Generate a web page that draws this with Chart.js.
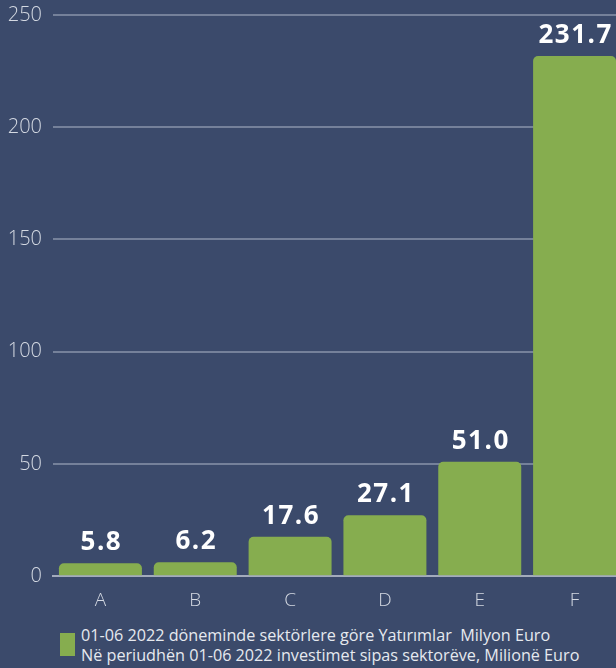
<!DOCTYPE html>
<html lang="tr">
<head>
  <meta charset="UTF-8" />
  <title>Sektörlere göre Yatırımlar</title>
  <script src="https://cdn.jsdelivr.net/npm/chart.js"></script>
  <style>
    html, body {
      margin: 0;
      padding: 0;
      background-color: #3b4a6b;
      overflow: hidden;
    }
    .wrap {
      width: 616px;
      height: 668px;
      position: relative;
      overflow: hidden;
      font-family: "Open Sans", sans-serif;
    }
    .chart-box {
      width: 622px;
      height: 617px;
    }
    .legend {
      position: absolute;
      left: 60px;
      top: 625px;
      display: flex;
      align-items: flex-start;
      color: #e6e9ef;
      font-size: 16.2px;
      line-height: 20px;
      white-space: pre;
    }
    .legend .swatch {
      width: 15px;
      height: 23px;
      background-color: #86ad4f;
      margin-right: 6px;
      margin-top: 8px;
    }
  </style>
</head>
<body>
  <div class="wrap">
    <div class="chart-box"><canvas id="chart"></canvas></div>
    <div class="legend" id="legend"></div>
  </div>

  <script>
    const categories = ['A', 'B', 'C', 'D', 'E', 'F'];
    const values = [5.8, 6.2, 17.6, 27.1, 51.0, 231.7];
    const yTicks = [0, 50, 100, 150, 200, 250];
    const seriesLabel = [
      '01-06 2022 döneminde sektörlere göre Yatırımlar  Milyon Euro',
      'Në periudhën 01-06 2022 investimet sipas sektorëve, Milionë Euro'
    ];

    // value labels above each bar
    const valueLabels = {
      id: 'valueLabels',
      afterDatasetsDraw(chart) {
        const ctx = chart.ctx;
        const meta = chart.getDatasetMeta(0);
        ctx.save();
        ctx.fillStyle = '#ffffff';
        ctx.font = 'bold 26px "Open Sans"';
        ctx.textAlign = 'center';
        ctx.textBaseline = 'alphabetic';
        if ('letterSpacing' in ctx) ctx.letterSpacing = '1.5px';
        meta.data.forEach((bar, i) => {
          ctx.fillText(values[i].toFixed(1), bar.x + 1, bar.y - 13);
        });
        ctx.restore();
      }
    };

    new Chart(document.getElementById('chart'), {
      type: 'bar',
      data: {
        labels: categories,
        datasets: [{
          label: seriesLabel.join(' '),
          data: values,
          backgroundColor: '#86ad4f',
          borderRadius: { topLeft: 5, topRight: 5 },
          borderSkipped: 'bottom',
          barPercentage: 0.875,
          categoryPercentage: 1.0
        }]
      },
      options: {
        responsive: true,
        maintainAspectRatio: false,
        animation: false,
        layout: { padding: 0 },
        plugins: {
          legend: { display: false },
          tooltip: { enabled: false }
        },
        scales: {
          x: {
            grid: { display: false },
            border: { display: true, color: '#a3abbc', width: 2 },
            ticks: {
              color: '#d4d9e2',
              font: { family: 'Open Sans', size: 19, weight: 300 },
              padding: 5
            }
          },
          y: {
            min: 0,
            max: 250,
            afterBuildTicks(axis) {
              axis.ticks = yTicks.map(v => ({ value: v }));
            },
            afterFit(axis) {
              axis.width = 53;
              axis.paddingTop = 15;
              axis.paddingBottom = 0;
            },
            grid: { color: '#75819a', lineWidth: 2, drawTicks: false },
            border: { display: false },
            ticks: {
              color: '#d4d9e2',
              font: { family: 'Open Sans', size: 20, weight: 300 },
              padding: 11
            }
          }
        }
      },
      plugins: [valueLabels]
    });

    document.getElementById('legend').innerHTML =
      '<div class="swatch"></div><div>' + seriesLabel.join('\n') + '</div>';
  </script>
</body>
</html>
